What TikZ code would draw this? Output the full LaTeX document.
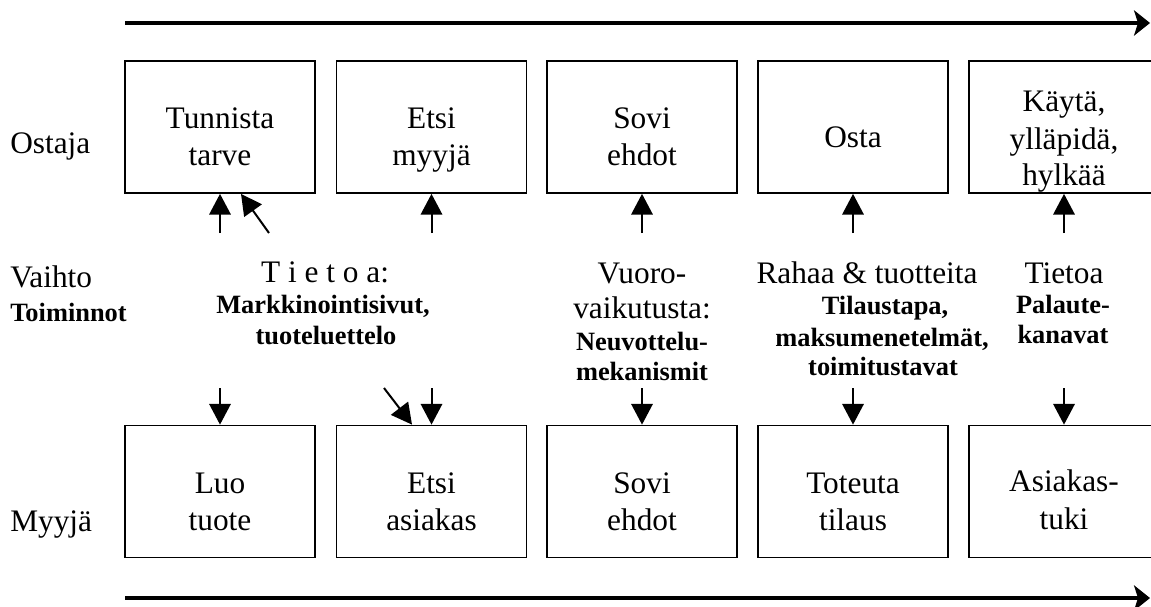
\documentclass[tikz,border=0pt]{standalone}
\usepackage{fontspec}
\setmainfont{Liberation Serif}
\usetikzlibrary{arrows.meta}
\newcommand\diaReg{\fontsize{23.5pt}{28pt}\selectfont}
\newcommand\diaBold{\fontsize{19.8pt}{24pt}\selectfont\bfseries}

\begin{document}
\begin{tikzpicture}[x=0.75pt,y=-0.75pt,
  stepbox/.style={draw, line width=1.3pt, minimum width=142.5pt, minimum height=99pt, inner sep=0pt},
  ln/.style={inner sep=0pt, anchor=base, font=\diaReg},
  lb/.style={inner sep=0pt, anchor=base, font=\diaBold},
  side/.style={inner sep=0pt, anchor=base west, font=\diaReg},
  sideb/.style={inner sep=0pt, anchor=base west, font=\diaBold},
  conn/.style={line width=1.5pt, -{Triangle[length=15.5pt,width=16pt]}},
  flow/.style={line width=2.8pt, -{Stealth[length=12pt,width=19pt,inset=3pt]}}]
\useasboundingbox (0,0) rectangle (1151,606);

% time-line arrows
\coordinate (ts) at (125,23);
\coordinate (te) at (1150,23);
\coordinate (bs) at (125,598);
\coordinate (be) at (1150,598);
\draw[flow] (ts) -- (te);
\draw[flow] (bs) -- (be);

% buyer steps
\node[stepbox] (o1) at (220,127) {};
\node[stepbox] (o2) at (431.5,127) {};
\node[stepbox] (o3) at (642,127) {};
\node[stepbox] (o4) at (853,127) {};
\node[stepbox] (o5) at (1064,127) {};

% seller steps
\node[stepbox] (m1) at (220,491.5) {};
\node[stepbox] (m2) at (431.5,491.5) {};
\node[stepbox] (m3) at (642,491.5) {};
\node[stepbox] (m4) at (853,491.5) {};
\node[stepbox] (m5) at (1064,491.5) {};

% row labels
\node[side] (lo) at (10,153) {Ostaja};
\node[side] (lv) at (10,287) {Vaihto};
\node[sideb] (lt) at (10,321) {Toiminnot};
\node[side] (lm) at (10,531) {Myyjä};

% buyer step texts
\node[ln] (o1a) at (220,128) {Tunnista};
\node[ln] (o1b) at (220,166) {tarve};
\node[ln] (o2a) at (431.5,128) {Etsi};
\node[ln] (o2b) at (431.5,166) {myyjä};
\node[ln] (o3a) at (642,128) {Sovi};
\node[ln] (o3b) at (642,166) {ehdot};
\node[ln] (o4a) at (853,147) {Osta};
\node[ln] (o5a) at (1064,112) {Käytä,};
\node[ln] (o5b) at (1064,149) {ylläpidä,};
\node[ln] (o5c) at (1064,185) {hylkää};

% seller step texts
\node[ln] (m1a) at (220,493) {Luo};
\node[ln] (m1b) at (220,530) {tuote};
\node[ln] (m2a) at (431.5,493) {Etsi};
\node[ln] (m2b) at (431.5,530) {asiakas};
\node[ln] (m3a) at (642,493) {Sovi};
\node[ln] (m3b) at (642,530) {ehdot};
\node[ln] (m4a) at (853,493) {Toteuta};
\node[ln] (m4b) at (853,530) {tilaus};
\node[ln] (m5a) at (1064,491) {Asiakas-};
\node[ln] (m5b) at (1064,529) {tuki};

% exchange and functions
\node[ln] (x1a) at (325,282) {T i e t o a:};
\node[lb] (x1b) at (323,313) {Markkinointisivut,};
\node[lb] (x1c) at (326,344) {tuoteluettelo};
\node[ln] (x3a) at (642,283) {Vuoro-};
\node[ln] (x3b) at (642,318) {vaikutusta:};
\node[lb] (x3c) at (642,350) {Neuvottelu-};
\node[lb] (x3d) at (642,380) {mekanismit};
\node[ln] (x4a) at (867,283) {Rahaa \& tuotteita};
\node[lb] (x4b) at (885,314) {Tilaustapa,};
\node[lb] (x4c) at (882,346) {maksumenetelmät,};
\node[lb] (x4d) at (883,375) {toimitustavat};
\node[ln] (x5a) at (1064,283) {Tietoa};
\node[lb] (x5b) at (1063,313) {Palaute-};
\node[lb] (x5c) at (1063,343) {kanavat};

% arrows up to the buyer
\coordinate (u1) at (220,233);
\coordinate (u1d) at (269,233);
\coordinate (u2) at (431.5,233);
\coordinate (u3) at (642,233);
\coordinate (u4) at (853,233);
\coordinate (u5) at (1064,233);
\draw[conn] (u1) -- (o1.south);
\draw[conn] (u1d) -- ([xshift=15.75pt]o1.south);
\draw[conn] (u2) -- (o2.south);
\draw[conn] (u3) -- (o3.south);
\draw[conn] (u4) -- (o4.south);
\draw[conn] (u5) -- (o5.south);

% arrows down to the seller
\coordinate (d1) at (220,388);
\coordinate (d2) at (431.5,388);
\coordinate (d2d) at (384,388);
\coordinate (d3) at (642,388);
\coordinate (d4) at (853,388);
\coordinate (d5) at (1064,388);
\draw[conn] (d1) -- (m1.north);
\draw[conn] (d2) -- (m2.north);
\draw[conn] (d2d) -- ([xshift=-14.6pt]m2.north);
\draw[conn] (d3) -- (m3.north);
\draw[conn] (d4) -- (m4.north);
\draw[conn] (d5) -- (m5.north);
\end{tikzpicture}
\end{document}
